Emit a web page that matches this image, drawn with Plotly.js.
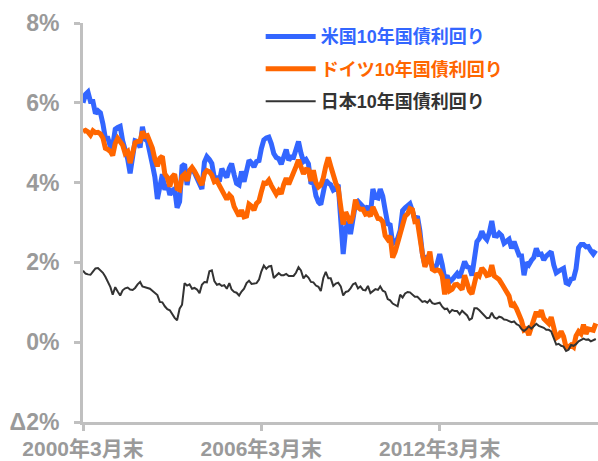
<!DOCTYPE html>
<html>
<head>
<meta charset="utf-8">
<script src="https://cdn.plot.ly/plotly-3.0.1.min.js"></script>
<style>
html,body{margin:0;padding:0;background:#fff;}
#chart{width:598px;height:461px;}
</style>
</head>
<body>
<div id="chart"></div>
<script>
// Monthly series, 2000年3月末 〜 2017年6月末 (%)
const startYear = 2000, startMonth = 3;

const usYield = [
  6.00,6.21,6.27,6.03,6.03,5.73,5.80,5.75,5.47,5.11,
  5.11,4.90,4.92,5.34,5.38,5.41,5.05,4.83,4.59,4.23,4.75,5.05,
  5.03,4.88,5.40,5.09,5.04,4.80,4.46,4.14,3.59,3.89,4.21,3.82,
  3.96,3.69,3.80,3.84,3.37,3.52,4.41,4.46,3.94,4.29,4.33,4.25,
  4.13,3.97,3.84,4.51,4.65,4.58,4.48,4.12,4.12,4.03,4.35,4.22,
  4.13,4.36,4.48,4.20,3.98,3.94,4.28,4.02,4.33,4.56,4.49,4.39,
  4.53,4.55,4.85,5.07,5.12,5.14,4.98,4.73,4.63,4.60,4.46,4.70,
  4.83,4.56,4.64,4.63,4.89,5.03,4.74,4.53,4.58,4.47,3.97,4.02,
  3.67,3.51,3.45,3.73,4.06,3.99,3.95,3.81,3.85,3.95,2.93,2.21,
  2.84,3.02,2.71,3.16,3.47,3.53,3.48,3.40,3.31,3.41,3.21,3.84,
  3.63,3.61,3.84,3.66,3.31,2.97,2.94,2.47,2.51,2.60,2.80,3.30,
  3.37,3.43,3.47,3.29,3.06,3.16,2.80,2.22,1.92,2.17,2.08,1.89,
  1.83,1.98,2.21,1.95,1.59,1.67,1.51,1.57,1.65,1.72,1.62,1.78,
  2.02,1.89,1.87,1.67,2.16,2.52,2.60,2.78,2.64,2.57,2.75,3.04,
  2.67,2.66,2.73,2.67,2.48,2.53,2.58,2.35,2.52,2.35,2.18,2.17,
  1.68,2.00,1.94,2.05,2.12,2.35,2.20,2.21,2.06,2.16,2.21,2.27,
  1.94,1.74,1.78,1.83,1.85,1.49,1.46,1.58,1.60,1.84,2.37,2.45,
  2.45,2.39,2.40,2.29,2.21,2.30
];

const deYield = [
  5.28,5.31,5.27,5.19,5.30,5.25,5.26,5.22,5.12,4.86,
  4.83,4.78,4.68,4.98,5.11,5.02,4.94,4.73,4.78,4.49,4.75,5.00,
  5.03,5.04,5.28,5.16,5.18,5.00,4.87,4.59,4.41,4.61,4.66,4.22,
  4.13,3.90,4.14,4.21,3.85,3.82,4.15,4.21,4.04,4.30,4.38,4.29,
  4.19,4.05,3.94,4.22,4.30,4.27,4.19,4.02,4.05,3.93,3.83,3.68,
  3.58,3.69,3.63,3.40,3.26,3.16,3.31,3.14,3.16,3.46,3.41,3.31,
  3.48,3.54,3.77,3.99,3.98,4.06,3.93,3.81,3.71,3.80,3.72,3.95,
  4.11,3.96,4.08,4.22,4.40,4.57,4.41,4.22,4.33,4.32,4.04,4.31,
  4.00,3.89,3.94,4.12,4.41,4.63,4.41,4.17,3.99,3.86,3.26,2.95,
  3.26,3.11,2.99,3.18,3.57,3.38,3.33,3.33,3.21,3.23,3.16,3.39,
  3.20,3.10,3.09,3.02,2.67,2.58,2.66,2.12,2.27,2.51,2.67,2.96,
  3.16,3.22,3.35,3.32,3.02,3.03,2.54,2.22,1.89,2.03,2.27,1.83,
  1.79,1.81,1.79,1.66,1.20,1.58,1.29,1.33,1.44,1.45,1.39,1.32,
  1.68,1.45,1.29,1.21,1.51,1.73,1.67,1.86,1.78,1.67,1.69,1.93,
  1.66,1.62,1.57,1.47,1.36,1.25,1.16,0.89,0.95,0.84,0.70,0.54,
  0.30,0.33,0.18,0.37,0.49,0.76,0.64,0.80,0.59,0.52,0.47,0.63,
  0.32,0.11,0.15,0.27,0.14,-0.13,-0.12,-0.07,-0.12,0.16,0.27,0.21,
  0.44,0.21,0.33,0.32,0.30,0.47
];

const jpYield = [
  1.79,1.72,1.70,1.69,1.77,1.85,1.86,1.81,1.74,1.64,
  1.49,1.38,1.19,1.38,1.27,1.17,1.30,1.35,1.37,1.32,1.31,1.36,
  1.45,1.51,1.40,1.38,1.37,1.34,1.29,1.23,1.18,1.01,1.00,0.90,
  0.83,0.80,0.70,0.61,0.55,0.84,0.94,1.48,1.42,1.45,1.34,1.36,
  1.32,1.23,1.44,1.51,1.50,1.78,1.80,1.53,1.44,1.46,1.41,1.43,
  1.34,1.48,1.32,1.26,1.24,1.17,1.27,1.34,1.48,1.54,1.46,1.47,
  1.48,1.57,1.77,1.92,1.84,1.90,1.91,1.61,1.67,1.73,1.68,1.68,
  1.71,1.66,1.66,1.66,1.74,1.88,1.80,1.60,1.68,1.62,1.51,1.50,
  1.42,1.39,1.28,1.61,1.76,1.60,1.60,1.41,1.47,1.49,1.40,1.17,
  1.26,1.28,1.35,1.45,1.48,1.35,1.40,1.31,1.30,1.41,1.23,1.28,
  1.33,1.31,1.40,1.29,1.26,1.08,1.05,0.97,0.94,0.90,1.19,1.12,
  1.22,1.26,1.25,1.19,1.14,1.14,1.07,1.01,1.03,0.99,1.06,0.98,
  0.96,0.97,0.99,0.89,0.83,0.84,0.74,0.81,0.78,0.78,0.70,0.79,
  0.74,0.67,0.56,0.60,0.85,0.85,0.80,0.73,0.68,0.60,0.61,0.74,
  0.62,0.59,0.64,0.62,0.57,0.56,0.53,0.50,0.52,0.45,0.42,0.33,
  0.28,0.33,0.40,0.34,0.40,0.46,0.41,0.38,0.36,0.31,0.31,0.27,
  0.10,-0.06,-0.04,-0.09,-0.11,-0.22,-0.19,-0.07,-0.09,-0.05,0.02,0.05,
  0.09,0.06,0.07,0.02,0.05,0.08
];

const seriesNames = ["米国10年国債利回り", "ドイツ10年国債利回り", "日本10年国債利回り"];
const seriesColors = ["#3366ff", "#ff6600", "#333333"];
const seriesWidths = [5, 5, 2];

const yTickVals = [-2, 0, 2, 4, 6, 8];
const yTickText = ["Δ2%", "0%", "2%", "4%", "6%", "8%"];
const xTickVals = ["2000-03-01", "2006-03-01", "2012-03-01"];
const xTickText = ["2000年3月末", "2006年3月末", "2012年3月末"];

// month dates
const n = usYield.length;
const dates = [];
for (let i = 0; i < n; i++) {
  const m0 = startMonth - 1 + i;
  const y = startYear + Math.floor(m0 / 12);
  const m = (m0 % 12) + 1;
  dates.push(y + "-" + String(m).padStart(2, "0") + "-01");
}

const values = [usYield, deYield, jpYield];
const traces = values.map((v, k) => ({
  x: dates, y: v, type: "scatter", mode: "lines",
  name: '<span style="color:' + seriesColors[k] + '">' + seriesNames[k] + '</span>',
  legendgroup: "g" + k,
  line: {color: seriesColors[k], width: seriesWidths[k]}
}));

const font = "Liberation Sans, Arial, 'Noto Sans CJK JP', sans-serif";
const layout = {
  width: 598, height: 461,
  margin: {l: 83, r: 0, t: 23, b: 39},
  paper_bgcolor: "#fff", plot_bgcolor: "#fff",
  showlegend: true,
  legend: {
    x: 0.345, y: 1.012, xanchor: "left", yanchor: "top",
    bgcolor: "rgba(0,0,0,0)",
    font: {family: font, size: 18, weight: "bold", color: "#333"},
    traceorder: "grouped", tracegroupgap: 6, itemwidth: 50
  },
  xaxis: {
    type: "date",
    range: ["2000-03-01", "2017-06-28"],
    tickvals: xTickVals, ticktext: xTickText,
    showgrid: false, zeroline: false,
    showline: true, linecolor: "#c0c0c0", linewidth: 3,
    ticks: "outside", ticklen: 6, tickwidth: 3, tickcolor: "#c0c0c0",
    tickfont: {family: font, size: 21, weight: "bold", color: "#9a9a9a"},
    ticklabelstandoff: 0
  },
  yaxis: {
    range: [-2, 8],
    tickvals: yTickVals, ticktext: yTickText,
    showgrid: false, zeroline: false,
    showline: true, linecolor: "#c0c0c0", linewidth: 3,
    ticks: "outside", ticklen: 6, tickwidth: 3, tickcolor: "#c0c0c0",
    tickfont: {family: font, size: 23, weight: "bold", color: "#9a9a9a"},
    ticklabelstandoff: 10
  }
};

Plotly.newPlot("chart", traces, layout, {displayModeBar: false, staticPlot: true});
</script>
</body>
</html>
